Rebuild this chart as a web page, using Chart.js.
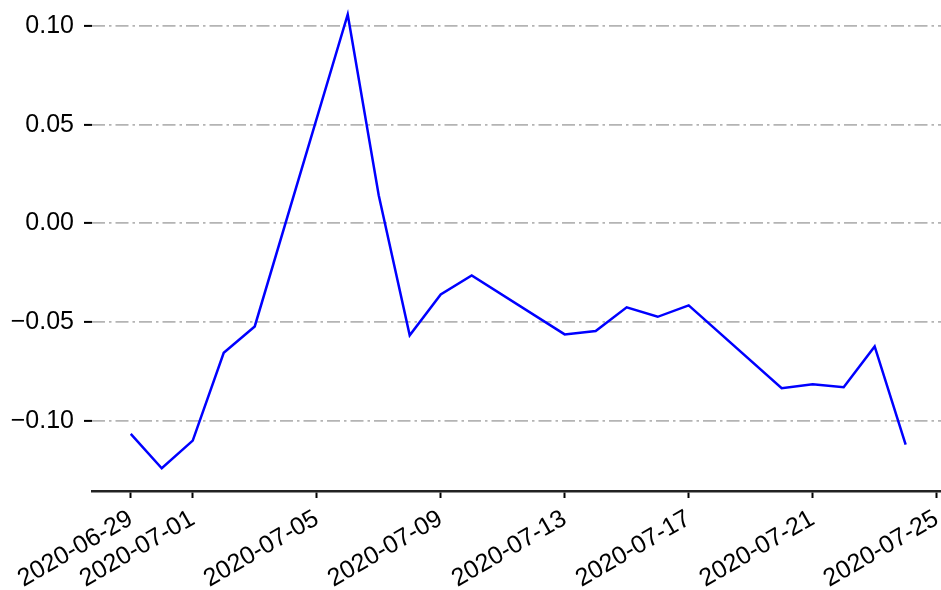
<!DOCTYPE html>
<html lang="zh">
<head>
    <meta charset="UTF-8">
    <title>Line chart</title>
    <script src="https://cdn.jsdelivr.net/npm/chart.js"></script>
    <style>
        html, body { margin: 0; padding: 0; background: #fff; }
        .chart-box { width: 941px; height: 590px; }
    </style>
</head>
<body>
    <div class="chart-box">
        <canvas id="lineChart"></canvas>
    </div>
    <script>
        // data
        const dates = ['2020-06-29', '2020-06-30', '2020-07-01', '2020-07-02', '2020-07-03',
            '2020-07-06', '2020-07-07', '2020-07-08', '2020-07-09', '2020-07-10',
            '2020-07-13', '2020-07-14', '2020-07-15', '2020-07-16', '2020-07-17',
            '2020-07-20', '2020-07-21', '2020-07-22', '2020-07-23', '2020-07-24'];
        const values = [-0.1066, -0.1240, -0.1100, -0.0655, -0.0522,
            0.1058, 0.0142, -0.0567, -0.0360, -0.0264,
            -0.0562, -0.0545, -0.0425, -0.0473, -0.0415,
            -0.0835, -0.0815, -0.0830, -0.0623, -0.1120];
        const xTickLabels = ['2020-06-29', '2020-07-01', '2020-07-05', '2020-07-09',
            '2020-07-13', '2020-07-17', '2020-07-21', '2020-07-25'];
        const yTickValues = [-0.10, -0.05, 0.00, 0.05, 0.10];

        // days counted from the first date
        const day0 = Date.parse(dates[0] + 'T00:00:00Z');
        const toDay = s => (Date.parse(s + 'T00:00:00Z') - day0) / 86400000;
        const fromDay = d => new Date(day0 + d * 86400000).toISOString().slice(0, 10);

        const points = dates.map((d, i) => ({ x: toDay(d), y: values[i] }));
        const font = { family: 'Liberation Sans, Arial, sans-serif', size: 25 };

        new Chart(document.getElementById('lineChart'), {
            type: 'line',
            data: {
                datasets: [{
                    data: points,
                    borderColor: '#0000ff',
                    borderWidth: 2.5,
                    pointRadius: 0,
                    tension: 0,
                    fill: false
                }]
            },
            options: {
                responsive: true,
                maintainAspectRatio: false,
                animation: false,
                layout: { padding: 0 },
                plugins: { legend: { display: false }, tooltip: { enabled: false } },
                scales: {
                    x: {
                        type: 'linear',
                        min: -1.25,
                        max: 26.14,
                        afterBuildTicks: s => { s.ticks = xTickLabels.map(t => ({ value: toDay(t) })); },
                        afterFit: s => { s.height = 99; s.paddingLeft = 0; s.paddingRight = 0; },
                        ticks: {
                            autoSkip: false,
                            minRotation: 30,
                            maxRotation: 30,
                            padding: 6,
                            color: '#000',
                            font: font,
                            callback: v => fromDay(v)
                        },
                        grid: {
                            drawOnChartArea: false,
                            drawTicks: true,
                            tickLength: 7,
                            tickColor: '#000',
                            tickWidth: 2
                        },
                        border: { display: true, color: '#222', width: 2.5 }
                    },
                    y: {
                        min: -0.1355,
                        max: 0.1131,
                        afterBuildTicks: s => { s.ticks = yTickValues.map(v => ({ value: v })); },
                        afterFit: s => { s.width = 92; s.paddingTop = 0; s.paddingBottom = 0; },
                        ticks: {
                            padding: 10,
                            color: '#000',
                            font: font,
                            callback: v => v.toFixed(2).replace('-', '\u2212')
                        },
                        grid: {
                            color: '#b4b4b4',
                            lineWidth: 1.8,
                            drawTicks: true,
                            tickLength: 8,
                            tickColor: '#000',
                            tickBorderDash: [],
                            tickWidth: 2
                        },
                        border: { display: false, dash: [13, 4, 2.5, 4] }
                    }
                }
            }
        });
    </script>
</body>
</html>
